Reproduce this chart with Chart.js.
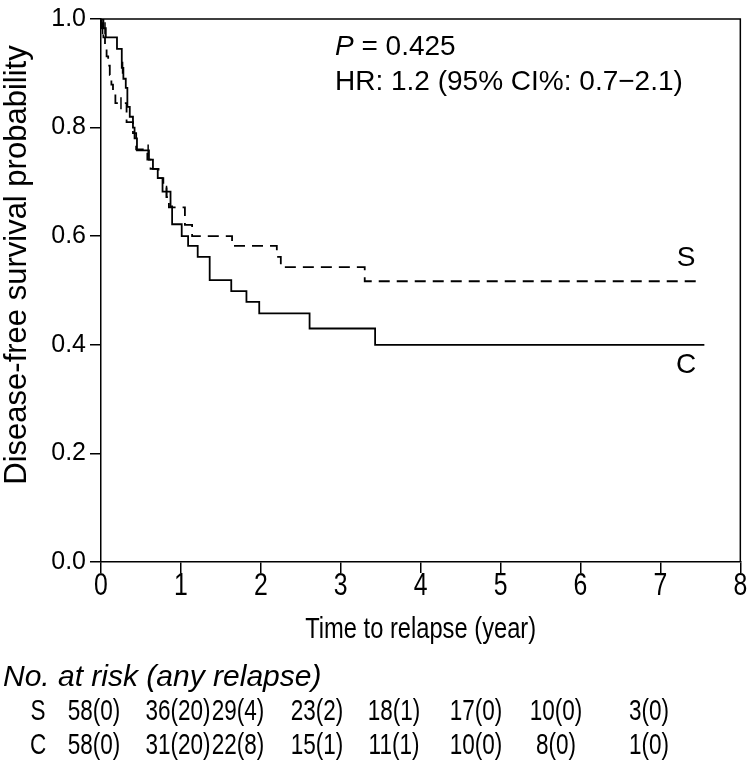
<!DOCTYPE html>
<html>
<head>
<meta charset="utf-8">
<script src="https://cdn.jsdelivr.net/npm/chart.js@4.4.0/dist/chart.umd.min.js"></script>
<style>
    html, body { margin: 0; padding: 0; background: #fff; }
    #km { display: block; }
</style>
</head>
<body>
<canvas id="km" width="751" height="772"></canvas>
<script>
// 곡선 데이터 (시간, 생존확률: 해당 시점 이후 값)
const timeC = [0, 0.03, 0.06, 0.2, 0.26, 0.28, 0.31, 0.33, 0.36, 0.4, 0.42, 0.45, 0.6, 0.65, 0.71, 0.77, 0.87, 0.89, 1.01, 1.09, 1.21, 1.36, 1.63, 1.82, 1.98, 2.61, 3.43, 7.55];
const survC = [1.0, 0.983, 0.966, 0.945, 0.91, 0.89, 0.873, 0.838, 0.82, 0.80, 0.78, 0.758, 0.741, 0.724, 0.707, 0.682, 0.655, 0.622, 0.600, 0.582, 0.562, 0.519, 0.499, 0.479, 0.458, 0.43, 0.40, 0.40];

const timeS = [0, 0.01, 0.03, 0.05, 0.07, 0.09, 0.11, 0.13, 0.15, 0.18, 0.32, 0.40, 0.44, 0.58, 0.62, 0.72, 0.78, 0.82, 0.85, 1.05, 1.14, 1.64, 2.20, 2.25, 3.30, 7.50];
const survS = [1.0, 0.983, 0.966, 0.948, 0.931, 0.914, 0.897, 0.879, 0.862, 0.845, 0.81, 0.79, 0.76, 0.741, 0.724, 0.707, 0.69, 0.672, 0.653, 0.621, 0.600, 0.582, 0.562, 0.543, 0.517, 0.517];

// 중도절단 표시
const censorTimeC = [0.05, 0.27, 0.59, 0.82];
const censorSurvC = [0.983, 0.91, 0.758, 0.682];
const censorTimeS = [0.02, 0.25];
const censorSurvS = [0.983, 0.845];

// 축 눈금
const xTicks = [0, 1, 2, 3, 4, 5, 6, 7, 8];
const yTicks = [0, 0.2, 0.4, 0.6, 0.8, 1.0];

// 위험군 수 (이벤트 수)
const riskS = [58, 36, 29, 23, 18, 17, 10, 3];
const eventS = [0, 20, 4, 2, 1, 0, 0, 0];
const riskC = [58, 31, 22, 15, 11, 10, 8, 1];
const eventC = [0, 20, 8, 1, 1, 0, 0, 0];

const FONT = "'Liberation Sans', Arial, Helvetica, sans-serif";

function toPoints(xs, ys) {
    return xs.map((x, i) => ({ x: x, y: ys[i] }));
}

// 가로 폭을 줄여서 그리기 (좁은 글꼴 흉내)
function drawText(ctx, text, x, y, font, sx, align) {
    ctx.save();
    ctx.font = font;
    ctx.textAlign = align;
    ctx.translate(x, y);
    ctx.scale(sx, 1);
    ctx.fillText(text, 0, 0);
    ctx.restore();
}

// 텍스트, 테두리, 위험군 표
const annotatePlugin = {
    id: 'annotate',
    afterDraw(chart) {
        const ctx = chart.ctx;
        const area = chart.chartArea;
        const xScale = chart.scales.x;
        ctx.save();

        // 위/오른쪽 테두리
        ctx.strokeStyle = '#000';
        ctx.lineWidth = 1.5;
        ctx.beginPath();
        ctx.moveTo(area.left, area.top);
        ctx.lineTo(area.right, area.top);
        ctx.lineTo(area.right, area.bottom);
        ctx.stroke();

        ctx.fillStyle = '#000';
        ctx.textBaseline = 'middle';

        // P 값, HR
        ctx.textAlign = 'left';
        ctx.font = 'italic 28px ' + FONT;
        ctx.fillText('P', 335, 47);
        const pw = ctx.measureText('P').width;
        ctx.font = '28px ' + FONT;
        ctx.fillText(' = 0.425', 335 + pw, 47);
        ctx.fillText('HR: 1.2 (95% CI%: 0.7\u22122.1)', 335, 82);

        // 곡선 라벨
        ctx.textAlign = 'center';
        ctx.fillText('S', 686, 258);
        ctx.fillText('C', 686, 365);

        // x 눈금 라벨
        xTicks.forEach(v => {
            drawText(ctx, String(v), xScale.getPixelForValue(v), 586, '31px ' + FONT, 0.8, 'center');
        });

        // 축 제목
        drawText(ctx, 'Time to relapse (year)', (area.left + area.right) / 2, 630, '30px ' + FONT, 0.79, 'center');
        ctx.save();
        ctx.translate(17, 265);
        ctx.rotate(-Math.PI / 2);
        ctx.font = '31px ' + FONT;
        ctx.textAlign = 'center';
        ctx.fillText('Disease-free survival probability', 0, 0);
        ctx.restore();

        // 위험군 표
        drawText(ctx, 'No. at risk (any relapse)', 3, 678, 'italic 30px ' + FONT, 1.0, 'left');

        const colX = [94, 178, 238, 317, 394, 476, 556, 649];
        drawText(ctx, 'S', 38, 712, '30px ' + FONT, 0.75, 'center');
        drawText(ctx, 'C', 38, 746, '30px ' + FONT, 0.75, 'center');
        riskS.forEach((n, i) => {
            drawText(ctx, `${n}(${eventS[i]})`, colX[i], 712, '30px ' + FONT, 0.75, 'center');
        });
        riskC.forEach((n, i) => {
            drawText(ctx, `${n}(${eventC[i]})`, colX[i], 746, '30px ' + FONT, 0.75, 'center');
        });

        ctx.restore();
    }
};

const chart = new Chart(document.getElementById('km'), {
    type: 'line',
    data: {
        datasets: [
            {
                label: 'C',
                data: toPoints(timeC, survC),
                stepped: true,
                borderColor: '#000',
                borderWidth: 1.8,
                pointRadius: 0,
                fill: false
            },
            {
                label: 'S',
                data: toPoints(timeS, survS),
                stepped: true,
                borderColor: '#000',
                borderWidth: 1.8,
                borderDash: [11, 7],
                pointRadius: 0,
                fill: false
            },
            {
                label: 'C censored',
                data: toPoints(censorTimeC, censorSurvC),
                showLine: false,
                pointStyle: 'line',
                rotation: 90,
                pointRadius: 6,
                pointBorderWidth: 1.5,
                pointBorderColor: '#000'
            },
            {
                label: 'S censored',
                data: toPoints(censorTimeS, censorSurvS),
                showLine: false,
                pointStyle: 'line',
                rotation: 90,
                pointRadius: 6,
                pointBorderWidth: 1.5,
                pointBorderColor: '#000'
            }
        ]
    },
    options: {
        responsive: false,
        animation: false,
        layout: { padding: { left: 0, right: 9, top: 12, bottom: 150 } },
        plugins: {
            legend: { display: false },
            tooltip: { enabled: false }
        },
        scales: {
            x: {
                type: 'linear',
                min: 0,
                max: 8,
                afterFit: scale => { scale.height = 60; },
                afterBuildTicks: scale => { scale.ticks = xTicks.map(v => ({ value: v })); },
                border: { display: true, color: '#000', width: 1.5 },
                grid: { drawOnChartArea: false, drawTicks: true, tickLength: 11, color: '#000', lineWidth: 1.5 },
                ticks: { color: 'rgba(0,0,0,0)', font: { family: FONT, size: 24 }, padding: 4, maxRotation: 0 }
            },
            y: {
                type: 'linear',
                min: 0,
                max: 1,
                afterFit: scale => { scale.width = 101; },
                afterBuildTicks: scale => { scale.ticks = yTicks.map(v => ({ value: v })); },
                border: { display: true, color: '#000', width: 1.5 },
                grid: { drawOnChartArea: false, drawTicks: true, tickLength: 11, color: '#000', lineWidth: 1.5 },
                ticks: { color: '#000', font: { family: FONT, size: 25 }, padding: 4, callback: v => v.toFixed(1) }
            }
        }
    },
    plugins: [annotatePlugin]
});
</script>
</body>
</html>
